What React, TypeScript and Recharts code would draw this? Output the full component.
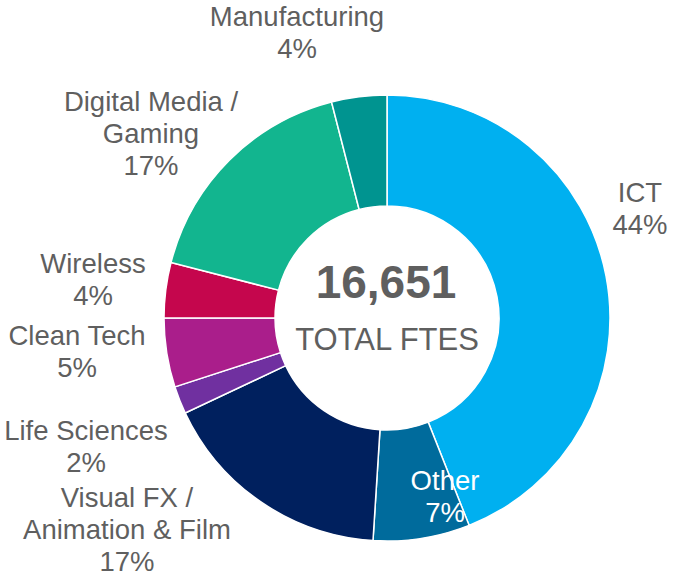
import { PieChart, Pie, Cell } from "recharts";

const SECTORS = [
  "ICT",
  "Other",
  "Visual FX /\nAnimation & Film",
  "Life Sciences",
  "Clean Tech",
  "Wireless",
  "Digital Media /\nGaming",
  "Manufacturing",
];
const SHARES = [44, 7, 17, 2, 5, 4, 17, 4];
const TOTAL_FTES = "16,651";
const TOTAL_CAPTION = "TOTAL FTES";

const COLORS = [
  "#00B0F0",
  "#006B9C",
  "#00205E",
  "#7030A0",
  "#AA1E8B",
  "#C5064D",
  "#12B58F",
  "#009490",
];

// label anchor (centre of first line baseline) relative to the pie centre
const LABEL_OFFSETS: Array<[number, number]> = [
  [253, -116],
  [58, 172],
  [-260, 189],
  [-301, 122],
  [-310, 27],
  [-294, -45],
  [-236, -207],
  [-90, -292],
];

const data = SECTORS.map((name, i) => ({ name, value: SHARES[i] }));

const FONT = "'Liberation Sans', Arial, sans-serif";
const LINE_H = 32;

function renderLabel(props: any) {
  const { cx, cy, index, percent, name } = props;
  const [dx, dy] = LABEL_OFFSETS[index];
  const lines = [...String(name).split("\n"), `${Math.round(percent * 100)}%`];
  const fill = index === 1 ? "#ffffff" : "#5f5f5f";
  return (
    <text
      x={cx + dx}
      y={cy + dy}
      textAnchor="middle"
      fill={fill}
      style={{ fontFamily: FONT, fontSize: 27.5 }}
    >
      {lines.map((l, i) => (
        <tspan key={i} x={cx + dx} dy={i === 0 ? 0 : LINE_H}>
          {l}
        </tspan>
      ))}
    </text>
  );
}

export default function App() {
  return (
    <div style={{ position: "absolute", left: 0, top: 0, background: "#fff" }}>
      <PieChart width={677} height={576} margin={{ top: 0, right: 0, bottom: 0, left: 0 }}>
        <Pie
          data={data}
          dataKey="value"
          nameKey="name"
          cx={387}
          cy={318}
          innerRadius={112}
          outerRadius={223}
          startAngle={90}
          endAngle={-270}
          stroke="#ffffff"
          strokeWidth={1.5}
          label={renderLabel}
          labelLine={false}
          isAnimationActive={false}
        >
          {data.map((d, i) => (
            <Cell key={d.name} fill={COLORS[i]} />
          ))}
        </Pie>
        <text
          x={386}
          y={298}
          textAnchor="middle"
          fill="#5f5f5f"
          style={{ fontFamily: FONT, fontSize: 46, fontWeight: 700 }}
        >
          {TOTAL_FTES}
        </text>
        <text
          x={387}
          y={350}
          textAnchor="middle"
          fill="#5f5f5f"
          style={{ fontFamily: FONT, fontSize: 31 }}
        >
          {TOTAL_CAPTION}
        </text>
      </PieChart>
    </div>
  );
}
